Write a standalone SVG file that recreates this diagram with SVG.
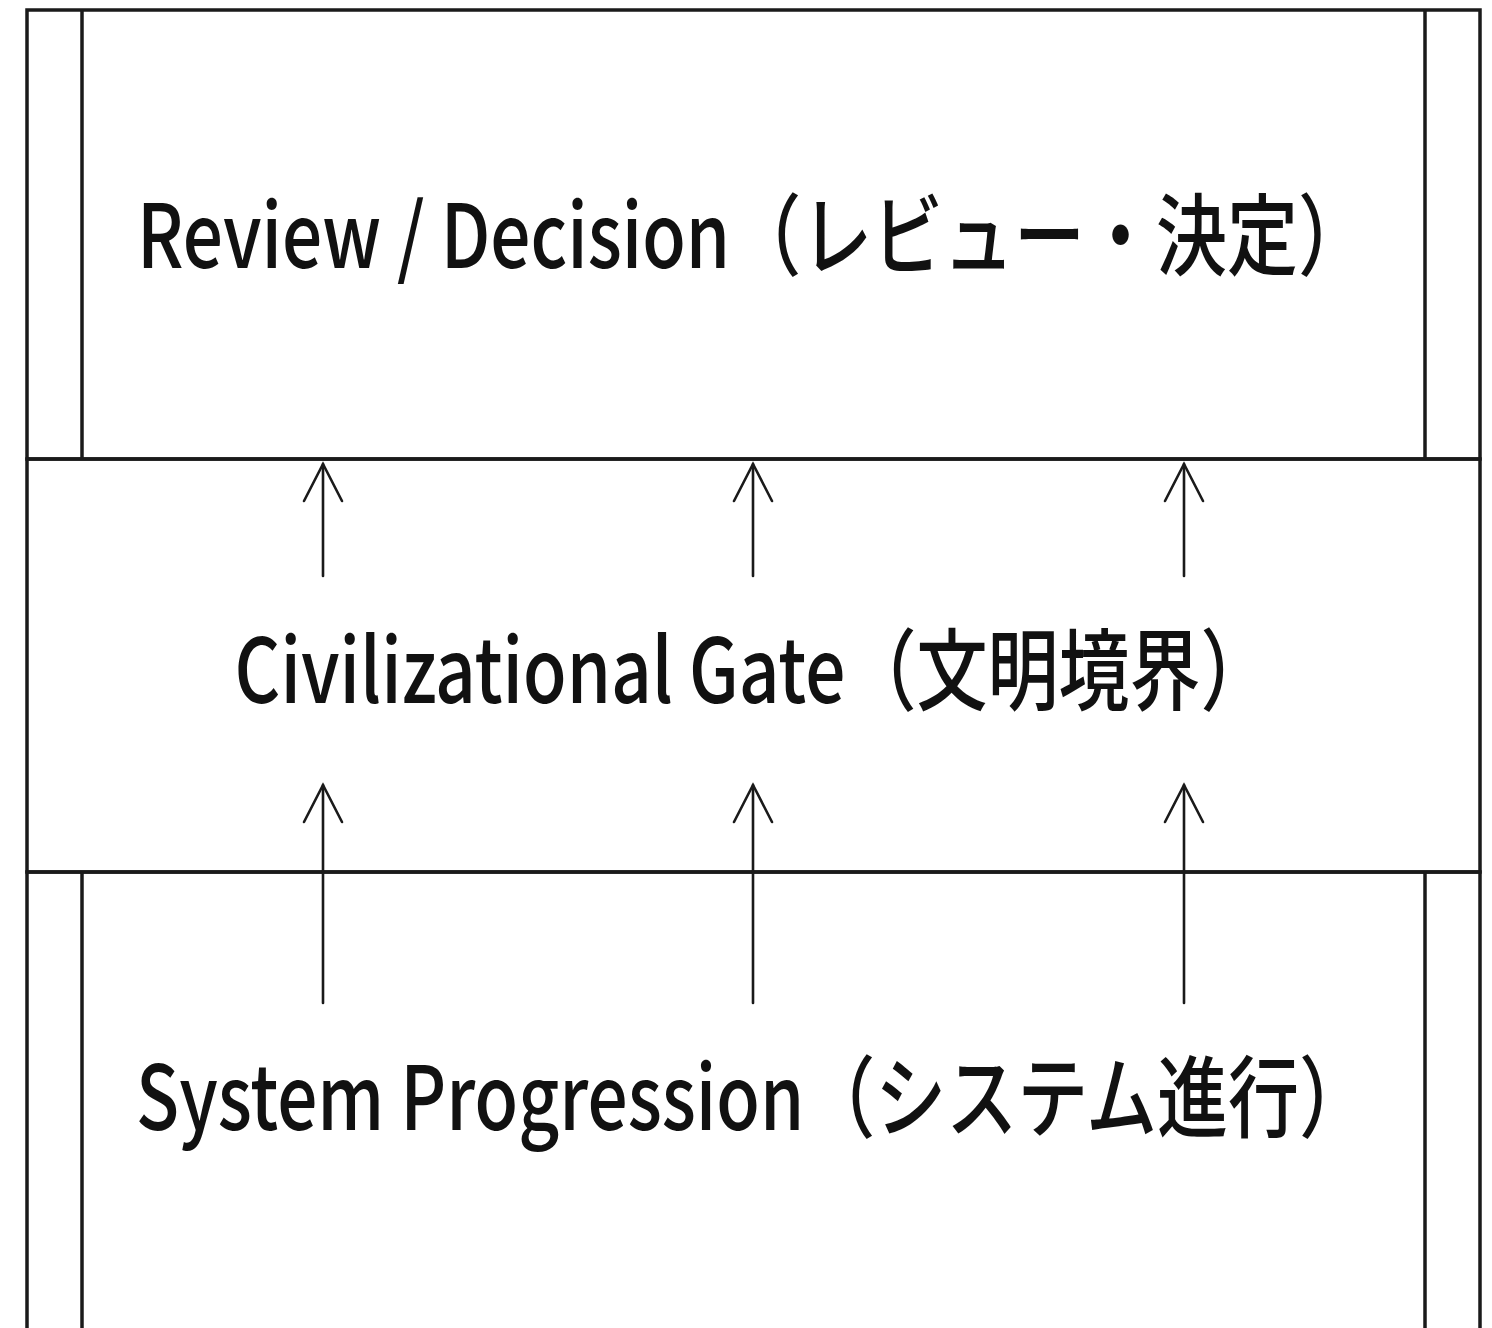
<svg xmlns="http://www.w3.org/2000/svg" width="1492" height="1328" viewBox="0 0 1492 1328">
<style>
.frame{fill:none;stroke:#1a1a1a;stroke-width:3.5}
.conn{fill:none;stroke:#1a1a1a;stroke-width:2.6;stroke-linecap:round;stroke-linejoin:miter}
.lbl{font-family:"Noto Sans CJK JP","Noto Sans",sans-serif;font-size:71px;font-weight:500;fill:#111;text-anchor:middle}
</style>
<rect width="1492" height="1328" fill="#ffffff"/>
<g id="review">
<rect class="frame" x="27" y="10" width="1453" height="449"/>
<line class="frame" x1="82" y1="10" x2="82" y2="459"/>
<line class="frame" x1="1425" y1="10" x2="1425" y2="459"/>
<g transform="translate(753,268) scale(1,1.25)"><text class="lbl" x="0" y="0">Review / Decision（レビュー・決定）</text></g>
</g>
<g id="gate">
<rect class="frame" x="27" y="459" width="1453" height="413"/>
<g transform="translate(753,703) scale(1,1.25)"><text class="lbl" x="0" y="0">Civilizational Gate（文明境界）</text></g>
</g>
<g id="system">
<rect class="frame" x="27" y="872" width="1453" height="470"/>
<line class="frame" x1="82" y1="872" x2="82" y2="1340"/>
<line class="frame" x1="1425" y1="872" x2="1425" y2="1340"/>
<g transform="translate(753,1130) scale(1,1.25)"><text class="lbl" x="0" y="0">System Progression（システム進行）</text></g>
</g>
<g id="connectors">
<line class="conn" x1="323" y1="576" x2="323" y2="464"/>
<polyline class="conn" points="304,501 323,464 342,501"/>
<line class="conn" x1="753" y1="576" x2="753" y2="464"/>
<polyline class="conn" points="734,501 753,464 772,501"/>
<line class="conn" x1="1184" y1="576" x2="1184" y2="464"/>
<polyline class="conn" points="1165,501 1184,464 1203,501"/>
<line class="conn" x1="323" y1="1003" x2="323" y2="785"/>
<polyline class="conn" points="304,822 323,785 342,822"/>
<line class="conn" x1="753" y1="1003" x2="753" y2="785"/>
<polyline class="conn" points="734,822 753,785 772,822"/>
<line class="conn" x1="1184" y1="1003" x2="1184" y2="785"/>
<polyline class="conn" points="1165,822 1184,785 1203,822"/>
</g>
</svg>
